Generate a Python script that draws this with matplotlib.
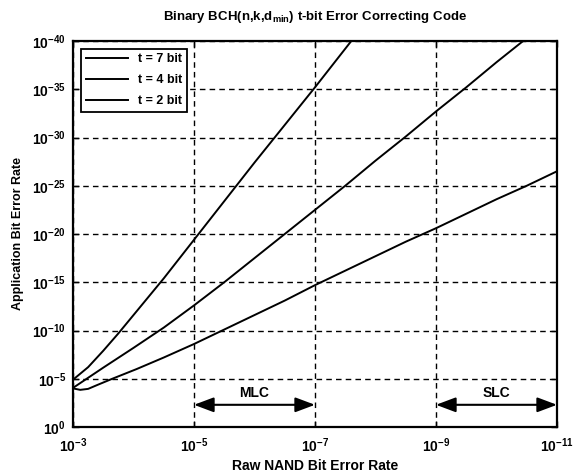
import matplotlib
matplotlib.use("Agg")
import matplotlib.pyplot as plt
import numpy as np

plt.rcParams['font.family'] = ['Liberation Sans', 'DejaVu Sans']
plt.rcParams['font.weight'] = 'bold'
plt.rcParams['mathtext.fontset'] = 'custom'
plt.rcParams['mathtext.rm'] = 'Liberation Sans:bold'
plt.rcParams['mathtext.it'] = 'Liberation Sans:bold'
plt.rcParams['mathtext.bf'] = 'Liberation Sans:bold'

# log10 of raw NAND BER (x) and application BER (y)
t7_logx = [-3.0, -3.25, -3.5, -3.75, -4.0, -4.5, -5.0, -5.5, -6.0, -6.5, -7.0, -7.5, -7.7]
t7_logy = [-4.9, -6.2, -7.9, -9.7, -11.6, -15.4, -19.4, -23.4, -27.4, -31.3, -35.2, -39.2, -40.8]

t4_logx = [-3.0, -3.25, -3.5, -4.0, -4.5, -5.0, -5.5, -6.0, -6.5, -7.0, -7.5, -8.0, -8.5, -9.0, -9.5, -10.0, -10.5, -10.7]
t4_logy = [-4.05, -5.1, -6.15, -8.2, -10.3, -12.6, -15.0, -17.5, -20.0, -22.5, -25.0, -27.6, -30.1, -32.7, -35.2, -37.8, -40.3, -41.3]

t2_logx = [-3.0, -3.12, -3.25, -3.4, -3.65, -4.05, -4.5, -5.0, -5.5, -6.0, -6.5, -7.0, -7.5, -8.0, -8.5, -9.0, -9.5, -10.0, -10.5, -11.0]
t2_logy = [-4.0, -3.85, -3.95, -4.35, -5.0, -6.0, -7.2, -8.6, -10.1, -11.6, -13.1, -14.7, -16.2, -17.7, -19.2, -20.6, -22.1, -23.6, -25.0, -26.5]

curve_labels = ['t = 7 bit', 't = 4 bit', 't = 2 bit']

x_ticks = [1e-3, 1e-5, 1e-7, 1e-9, 1e-11]
x_ticklabels = [r'$10^{-3}$', r'$10^{-5}$', r'$10^{-7}$', r'$10^{-9}$', r'$10^{-11}$']
y_exp = [0, -5, -10, -15, -20, -25, -30, -35, -40]

# operating regions (x range) and label
regions = [('MLC', 1e-5, 1e-7), ('SLC', 1e-9, 1e-11)]

fig = plt.figure(figsize=(5.76, 4.74), dpi=100)
ax = fig.add_axes([73/576, 1 - 427/474, 484/576, 386/474])

for lx, ly, lab in [(t7_logx, t7_logy, curve_labels[0]),
                    (t4_logx, t4_logy, curve_labels[1]),
                    (t2_logx, t2_logy, curve_labels[2])]:
    ax.plot(10.0 ** np.array(lx), 10.0 ** np.array(ly), color='k', lw=1.4, label=lab)

ax.set_xscale('log')
ax.set_yscale('log')
ax.set_xlim(1e-3, 1e-11)
ax.set_ylim(1e0, 1e-40)

ax.set_xticks(x_ticks)
ax.set_xticklabels(x_ticklabels)
ax.set_yticks([10.0 ** e for e in y_exp])
ax.set_yticklabels([r'$10^{%d}$' % e for e in y_exp])
ax.minorticks_off()
ax.tick_params(direction='in', length=4, width=1, top=True, right=True, labelsize=10, pad=5)
ax.tick_params(axis='x', pad=7)

ax.grid(True, which='major', color='k', linestyle=(0, (4, 3)), linewidth=1.0)
for s in ax.spines.values():
    s.set_linewidth(1.6)

for name, xa, xb in regions:
    ax.annotate('', xy=(xa, 10 ** -2.3), xytext=(xb, 10 ** -2.3),
                arrowprops=dict(arrowstyle='<|-|>,head_length=1.2,head_width=0.45',
                                color='k', lw=1.5, shrinkA=0, shrinkB=0))
    ax.text(np.sqrt(xa * xb), 10 ** -2.75, name, ha='center', va='bottom',
            fontsize=10, fontweight='bold')

ax.set_title(r'Binary BCH(n,k,d$_{min}$) t-bit Error Correcting Code',
             fontsize=9.5, fontweight='bold', pad=15)
ax.set_xlabel('Raw NAND Bit Error Rate', fontsize=10, fontweight='bold', labelpad=3)
ax.set_ylabel('Application Bit Error Rate', fontsize=9, fontweight='bold', labelpad=6)

leg = ax.legend(loc='upper left', fancybox=False, edgecolor='k', framealpha=1,
                fontsize=9, handlelength=3.4, borderaxespad=0.6, labelspacing=0.7)
leg.get_frame().set_linewidth(1.3)

fig.savefig('out.png', dpi=100)
